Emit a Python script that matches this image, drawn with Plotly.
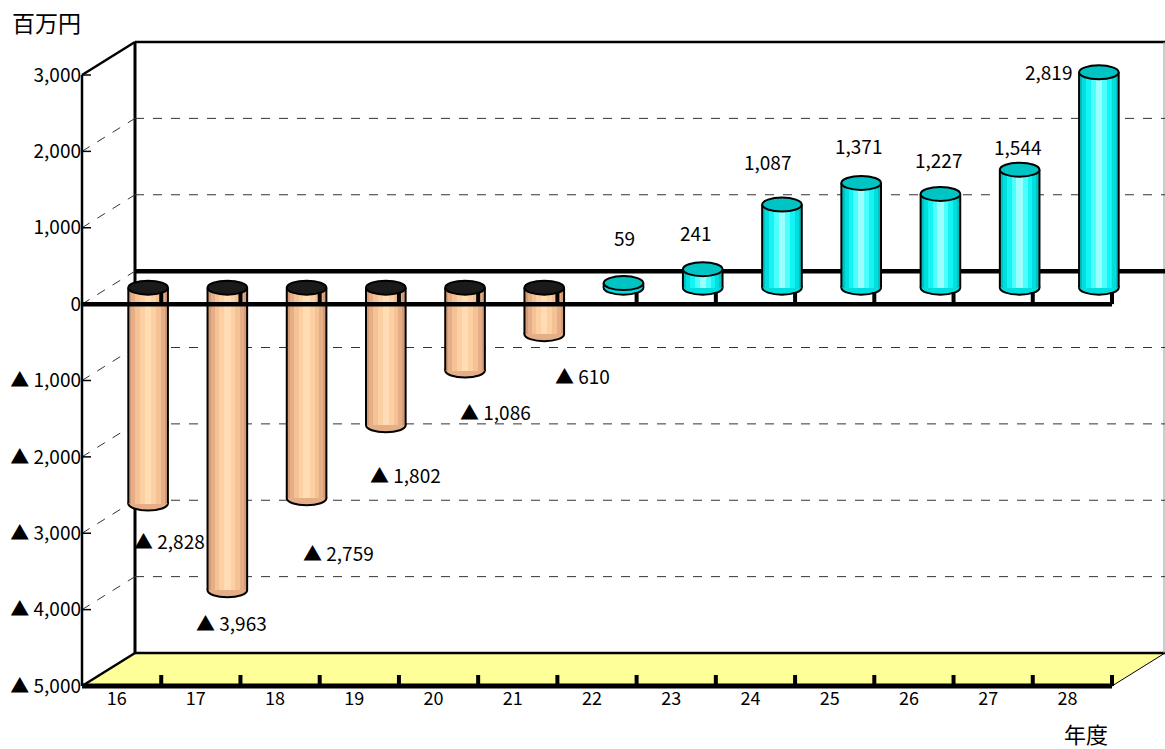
import plotly.graph_objects as go

# ---------------- data ----------------
years = ["16", "17", "18", "19", "20", "21", "22", "23", "24", "25", "26", "27", "28"]
values = [-2828, -3963, -2759, -1802, -1086, -610, 59, 241, 1087, 1371, 1227, 1544, 2819]
ytick_vals = [3000, 2000, 1000, 0, -1000, -2000, -3000, -4000, -5000]
ytick_text = ["3,000", "2,000", "1,000", "0", "▲ 1,000", "▲ 2,000", "▲ 3,000", "▲ 4,000", "▲ 5,000"]

# label offsets (pixels) relative to bar end
label_dx = [21, 4, 32, 20, 30, 38, 1, -7, -14, -3, -2, -2, -50]
label_dy = [-37, -32, -54, -49, -41, -41, 46, 37, 43, 37, 34, 23, 1]

# ---------------- geometry ----------------
W, H = 1165, 749
ML, MR, MT, MB = 82, 0, 40, 63
PW, PH = W - ML - MR, H - MT - MB
FRONT_W, FRONT_H = 1030, 611
YMIN, YMAX = -5000, 3000
n = len(years)
ux = FRONT_W / n
uy = FRONT_H / (YMAX - YMIN)
DX, DY = 53, 33          # depth of the 3D box (px)
BDX, BDY = DX / 2, DY / 2  # bars sit at mid depth

x_range = [-0.5, -0.5 + PW / ux]
y_range = [YMIN, YMIN + PH / uy]
x2_range = [r - BDX / ux for r in x_range]
y2_range = [r - BDY / uy for r in y_range]

def px(x):
    return x / PW

def py(y):
    return y / PH

def vy(v):
    return (v - YMIN) * uy

shapes = []

def pline(x0, y0, x1, y1, width=2, color="black", dash=None, layer="below"):
    d = dict(type="line", xref="paper", yref="paper", x0=px(x0), y0=py(y0), x1=px(x1), y1=py(y1),
             line=dict(color=color, width=width), layer=layer)
    if dash:
        d["line"]["dash"] = dash
    shapes.append(d)

# floor
shapes.append(dict(type="path", xref="paper", yref="paper", layer="below",
                   path=f"M {px(0)} {py(0)} L {px(FRONT_W)} {py(0)} L {px(FRONT_W+DX)} {py(DY)} L {px(DX)} {py(DY)} Z",
                   fillcolor="#FFFF99", line=dict(width=0)))
pline(DX, DY, FRONT_W + DX, DY, 2.5)
pline(0, 0, DX, DY, 2.5)
pline(FRONT_W, 0, FRONT_W + DX, DY, 1)
# walls
pline(DX, DY, DX, FRONT_H + DY, 3)
pline(0, FRONT_H, DX, FRONT_H + DY, 2.5)
pline(DX, FRONT_H + DY, FRONT_W + DX, FRONT_H + DY, 2.5)
pline(FRONT_W + DX - 1, DY, FRONT_W + DX - 1, FRONT_H + DY, 1, color="#999999")
# gridlines
for v in range(-4000, 3000, 1000):
    y = vy(v)
    pline(0, y, DX, y + DY, 1, color="#333333", dash="dash")
    if v == 0:
        pline(DX, y + DY, FRONT_W + DX, y + DY, 4.5)
    else:
        pline(DX, y + DY, FRONT_W + DX, y + DY, 1, color="#333333", dash="dash")
# left axis line and ticks
pline(0, 0, 0, FRONT_H, 2.5)
for v in ytick_vals:
    pline(0, vy(v), 9, vy(v), 1.5)
# bottom axis line and ticks
pline(0, 0, FRONT_W, 0, 5, layer="above")
for k in range(1, n + 1):
    pline(k * ux, 0, k * ux, 11, 4, layer="above")

# ---------------- bars (cylinders) ----------------
fig = go.Figure()
fig.add_trace(go.Scatter(x=[None], y=[None], showlegend=False, hoverinfo="skip"))

xs = list(range(n))
layers = [
    (0.50, "#00C2C2", "#D49C74"),
    (0.42, "#00DEDE", "#E6AE86"),
    (0.32, "#14F4F4", "#F4C294"),
    (0.20, "#4CFFFF", "#FDD0A3"),
    (0.08, "#9CFFFF", "#FFDCB4"),
]
for w, cpos, cneg in layers:
    fig.add_trace(go.Bar(
        x=xs, y=values, width=w, xaxis="x2", yaxis="y2",
        marker=dict(color=[cpos if v > 0 else cneg for v in values], line=dict(width=0)),
        showlegend=False, hoverinfo="skip"))

BW = 0.5
EH = 7 / uy
for i, v in enumerate(values):
    if v > 0:
        bc, bfill = 0, "#00DEDE"
        tc, tfill = v, "#00C4C4"
    else:
        bc, bfill = v, "#E6AE86"
        tc, tfill = 0, "#1A1A1A"
    shapes.append(dict(type="circle", xref="x2", yref="y2", layer="below",
                       x0=i - BW / 2, x1=i + BW / 2, y0=bc - EH, y1=bc + EH,
                       fillcolor=bfill, line=dict(color="black", width=2)))
    for sx in (i - BW / 2, i + BW / 2):
        shapes.append(dict(type="line", xref="x2", yref="y2", layer="above",
                           x0=sx, x1=sx, y0=0, y1=v, line=dict(color="black", width=2)))
    shapes.append(dict(type="circle", xref="x2", yref="y2", layer="above",
                       x0=i - BW / 2, x1=i + BW / 2, y0=tc - EH, y1=tc + EH,
                       fillcolor=tfill, line=dict(color="black", width=2)))

# front zero line with ticks (in front of the bars)
y0 = vy(0)
pline(0, y0, FRONT_W, y0, 4.5, layer="above")
for k in range(1, n + 1):
    pline(k * ux, y0, k * ux, y0 + 12, 4, layer="above")

# ---------------- labels ----------------
FONT = "Noto Sans CJK JP"
annotations = []
for i, v in enumerate(values):
    txt = f"{v:,}" if v > 0 else f"▲ {-v:,}"
    annotations.append(dict(x=i, y=v, xref="x2", yref="y2", text=txt, showarrow=False,
                            xanchor="center", yanchor="middle",
                            xshift=label_dx[i], yshift=label_dy[i],
                            font=dict(family=FONT, size=19, color="black")))
annotations.append(dict(x=px(46 - ML), y=py(686 - 22), xref="paper", yref="paper", text="百万円",
                        showarrow=False, xanchor="center", yanchor="middle",
                        font=dict(family=FONT, size=23, color="black")))
annotations.append(dict(x=px(1086 - ML), y=py(686 - 733), xref="paper", yref="paper", text="年度",
                        showarrow=False, xanchor="center", yanchor="middle",
                        font=dict(family=FONT, size=22, color="black")))

fig.update_layout(
    width=W, height=H,
    margin=dict(l=ML, r=MR, t=MT, b=MB, pad=0),
    paper_bgcolor="white", plot_bgcolor="rgba(0,0,0,0)",
    barmode="overlay", bargap=0,
    showlegend=False,
    xaxis=dict(range=x_range, tickvals=xs, ticktext=years, showgrid=False, zeroline=False,
               showline=False, ticks="", ticklabelshift=-5,
               tickfont=dict(family=FONT, size=18, color="black"), fixedrange=True),
    yaxis=dict(range=y_range, tickvals=ytick_vals, ticktext=ytick_text, showgrid=False,
               zeroline=False, showline=False, ticks="",
               tickfont=dict(family=FONT, size=19, color="black"), fixedrange=True),
    xaxis2=dict(range=x2_range, overlaying="x", visible=False, fixedrange=True),
    yaxis2=dict(range=y2_range, overlaying="y", visible=False, fixedrange=True),
    shapes=shapes,
    annotations=annotations,
)

fig.write_html("out.html")
